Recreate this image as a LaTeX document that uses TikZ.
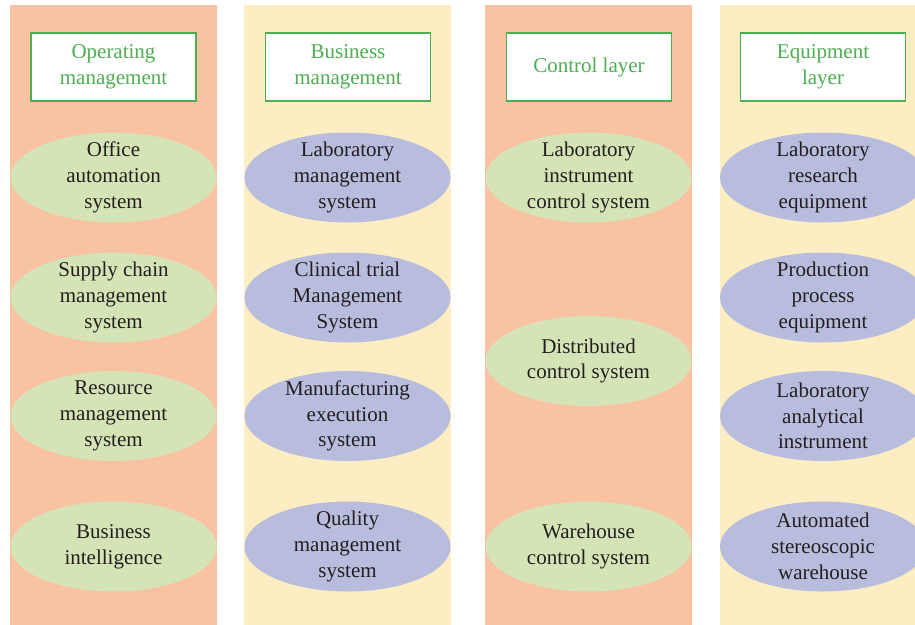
\documentclass[tikz,border=0pt]{standalone}
\usepackage{fontspec}
\setmainfont{Liberation Serif}
\usetikzlibrary{shapes.geometric}

\definecolor{panelSalmon}{HTML}{F9C2A2}
\definecolor{panelCream}{HTML}{FCEDC3}
\definecolor{ovalGreen}{HTML}{D5E4B6}
\definecolor{ovalBlue}{HTML}{B8BDDE}
\definecolor{titleGreen}{HTML}{4DAE52}
\definecolor{bodyText}{HTML}{231F20}

\tikzset{
  panel/.style={draw=none, inner sep=0pt, minimum width=207pt, anchor=north west},
  header/.style={draw=titleGreen, line width=1.2pt, fill=white, text=titleGreen,
    minimum width=165pt, minimum height=68pt, inner sep=0pt, align=center,
    font=\fontsize{21}{26}\selectfont},
  ovaltext/.style={align=center, text=bodyText, inner sep=0pt,
    font=\fontsize{21}{25.8}\selectfont},
  oval/.style={ellipse, draw=none, minimum width=206pt, minimum height=90pt,
    inner sep=0pt},
  greenoval/.style={oval, fill=ovalGreen},
  blueoval/.style={oval, fill=ovalBlue}
}
% an oval of fixed size with its text centred on it
\newcommand\ovalnode[4]{%
  \node[#1] (#2) at (#3) {};
  \node[ovaltext] (#2-t) at (#2.center) {#4};
}

\begin{document}
\begin{tikzpicture}[x=1pt, y=-1pt]
  \useasboundingbox (0,0) rectangle (915,624);
  \fill[white] (0,0) rectangle (915,624);

  \begin{scope}
    \clip (0,0) rectangle (915,624);
    % column backgrounds
    \node[panel, fill=panelSalmon, minimum height=620pt] (p1) at (10,5) {};
    \node[panel, fill=panelCream,  minimum height=620pt] (p2) at (244,5) {};
    \node[panel, fill=panelSalmon, minimum height=620pt] (p3) at (485,5) {};
    \node[panel, fill=panelCream,  minimum height=620pt, minimum width=200pt] (p4) at (720,5) {};

    % headers
    \node[header] (h1) at (113.5,67) {Operating\\management};
    \node[header] (h2) at (348,67) {Business\\management};
    \node[header] (h3) at (589,67) {Control layer};
    \node[header] (h4) at (823,67) {Equipment\\layer};

    % operating management
    \ovalnode{greenoval}{o1}{113.5,177.5}{Office\\automation\\system}
    \ovalnode{greenoval}{o2}{113.5,297.5}{Supply chain\\management\\system}
    \ovalnode{greenoval}{o3}{113.5,416}{Resource\\management\\system}
    \ovalnode{greenoval}{o4}{113.5,546.5}{Business\\intelligence}

    % business management
    \ovalnode{blueoval}{b1}{347.5,177.5}{Laboratory\\management\\system}
    \ovalnode{blueoval}{b2}{347.5,297.5}{Clinical trial\\Management\\System}
    \ovalnode{blueoval}{b3}{347.5,416}{Manufacturing\\execution\\system}
    \ovalnode{blueoval}{b4}{347.5,546.5}{Quality\\management\\system}

    % control layer
    \ovalnode{greenoval}{c1}{588.5,177.5}{Laboratory\\instrument\\control system}
    \ovalnode{greenoval}{c2}{588.5,361}{Distributed\\control system}
    \ovalnode{greenoval}{c3}{588.5,546.5}{Warehouse\\control system}

    % equipment layer
    \ovalnode{blueoval}{e1}{823,177.5}{Laboratory\\research\\equipment}
    \ovalnode{blueoval}{e2}{823,297.5}{Production\\process\\equipment}
    \ovalnode{blueoval}{e3}{823,416}{Laboratory\\analytical\\instrument}
    \ovalnode{blueoval}{e4}{823,546.5}{Automated\\stereoscopic\\warehouse}
  \end{scope}
\end{tikzpicture}
\end{document}
